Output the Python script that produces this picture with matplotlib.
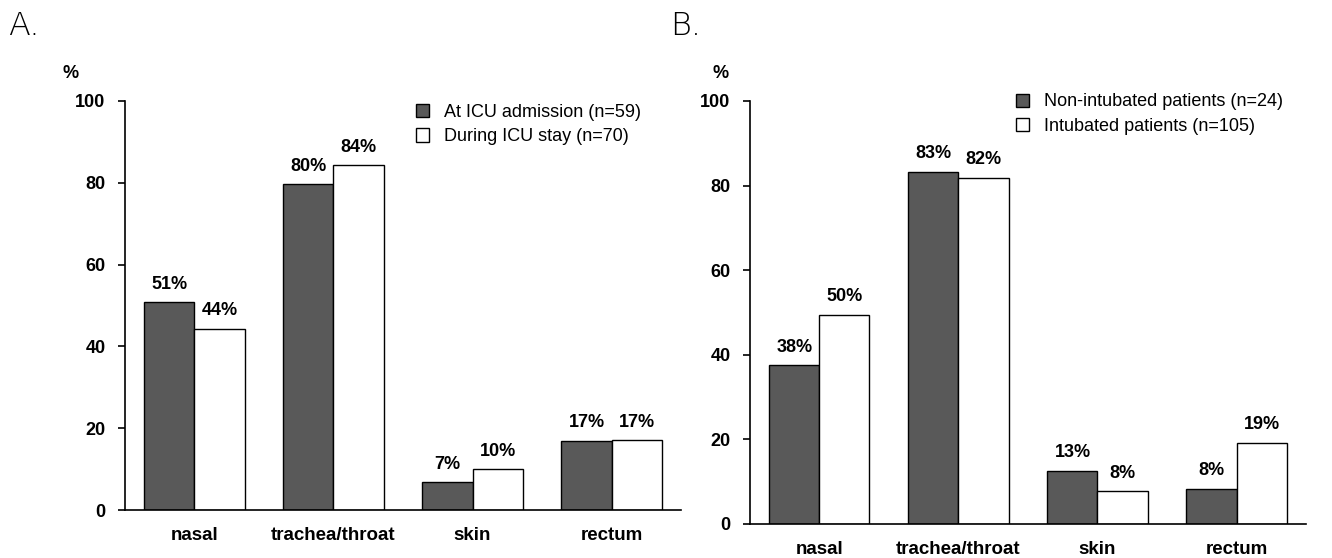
import matplotlib.pyplot as plt
import numpy as np

plt.rcParams['font.family'] = ['Liberation Sans', 'DejaVu Sans']

categories = ['nasal', 'trachea/throat', 'skin', 'rectum']

# panel A
a_labels = ['At ICU admission (n=59)', 'During ICU stay (n=70)']
a_admission = [50.8, 79.7, 6.8, 16.9]
a_stay = [44.3, 84.3, 10.0, 17.1]
a_text_admission = ['51%', '80%', '7%', '17%']
a_text_stay = ['44%', '84%', '10%', '17%']

# panel B
b_labels = ['Non-intubated patients (n=24)', 'Intubated patients (n=105)']
b_nonint = [37.5, 83.3, 12.5, 8.3]
b_int = [49.5, 81.9, 7.7, 19.2]
b_text_nonint = ['38%', '83%', '13%', '8%']
b_text_int = ['50%', '82%', '8%', '19%']

dark = '#595959'
width = 0.36


def draw_panel(ax, vals1, vals2, txt1, txt2, labels, legend_anchor):
    x = np.arange(len(categories))
    b1 = ax.bar(x - width / 2, vals1, width, color=dark, edgecolor='black',
                linewidth=1.0, label=labels[0])
    b2 = ax.bar(x + width / 2, vals2, width, color='white', edgecolor='black',
                linewidth=1.0, label=labels[1])
    for bars, txt in ((b1, txt1), (b2, txt2)):
        for rect, t in zip(bars, txt):
            ax.text(rect.get_x() + rect.get_width() / 2, rect.get_height() + 2.3, t,
                    ha='center', va='bottom', fontsize=13, fontweight='bold')
    ax.set_xlim(-0.5, len(categories) - 0.5)
    ax.set_ylim(0, 100)
    ax.set_yticks([0, 20, 40, 60, 80, 100])
    ax.set_xticks(x)
    ax.set_xticklabels(categories, fontsize=13.5, fontweight='bold')
    ax.tick_params(axis='x', length=0, pad=12)
    ax.tick_params(axis='y', direction='out', length=5, width=1.2, labelsize=13, pad=9)
    for lab in ax.get_yticklabels():
        lab.set_fontweight('bold')
    ax.spines['top'].set_visible(False)
    ax.spines['right'].set_visible(False)
    ax.spines['left'].set_linewidth(1.2)
    ax.spines['bottom'].set_linewidth(1.2)
    ax.legend(loc='upper left', bbox_to_anchor=legend_anchor, frameon=False,
              fontsize=13, handlelength=0.75, handleheight=0.75, handletextpad=0.8,
              labelspacing=0.4, borderaxespad=0)


fig = plt.figure(figsize=(13.32, 5.58), dpi=100)
ax_a = fig.add_axes([0.0938, 0.086, 0.4175, 0.733])
ax_b = fig.add_axes([0.563, 0.061, 0.4175, 0.758])

draw_panel(ax_a, a_admission, a_stay, a_text_admission, a_text_stay, a_labels, (0.51, 1.01))
draw_panel(ax_b, b_nonint, b_int, b_text_nonint, b_text_int, b_labels, (0.465, 1.035))

fig.text(0.006, 0.953, 'A.', fontsize=23, family='DejaVu Sans', fontweight='light', va='center')
fig.text(0.503, 0.953, 'B.', fontsize=23, family='DejaVu Sans', fontweight='light', va='center')
fig.text(0.047, 0.869, '%', fontsize=13, fontweight='bold', va='center')
fig.text(0.535, 0.869, '%', fontsize=13, fontweight='bold', va='center')

fig.savefig('out.png', dpi=100)
